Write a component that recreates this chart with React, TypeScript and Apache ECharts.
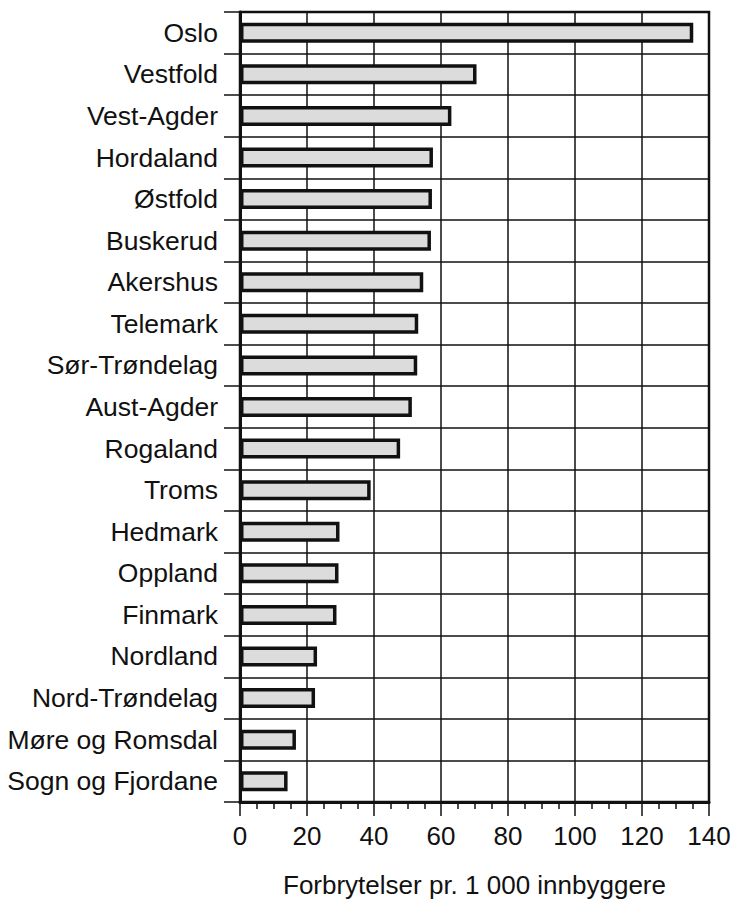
import React, { useEffect, useRef } from "react";
import * as echarts from "echarts";

const categories = [
  "Oslo",
  "Vestfold",
  "Vest-Agder",
  "Hordaland",
  "Østfold",
  "Buskerud",
  "Akershus",
  "Telemark",
  "Sør-Trøndelag",
  "Aust-Agder",
  "Rogaland",
  "Troms",
  "Hedmark",
  "Oppland",
  "Finmark",
  "Nordland",
  "Nord-Trøndelag",
  "Møre og Romsdal",
  "Sogn og Fjordane",
];

const values = [
  135.3, 70.6, 63.1, 57.6, 57.3, 57.0, 54.7, 53.2, 52.9, 51.3, 47.8, 39.0, 29.7,
  29.4, 28.8, 23.0, 22.4, 16.7, 14.2,
];

const xTicks = { min: 0, max: 140, interval: 20 };
const axisName = "Forbrytelser pr. 1 000 innbyggere";

const FONT = "'Liberation Sans', Arial, Helvetica, sans-serif";

export default function App() {
  const ref = useRef<HTMLDivElement>(null);

  useEffect(() => {
    if (!ref.current) return;
    const chart = echarts.init(ref.current, null, { renderer: "svg" });
    chart.setOption({
      animation: false,
      backgroundColor: "#ffffff",
      grid: {
        left: 240,
        right: 25,
        top: 12,
        bottom: 102,
        show: true,
        borderColor: "#111",
        borderWidth: 2.5,
        backgroundColor: "transparent",
      },
      xAxis: {
        type: "value",
        min: xTicks.min,
        max: xTicks.max,
        interval: xTicks.interval,
        name: axisName,
        nameLocation: "middle",
        nameGap: 70,
        nameTextStyle: { fontFamily: FONT, fontSize: 26, color: "#111" },
        axisLine: { show: true, lineStyle: { color: "#111", width: 3 } },
        axisTick: { show: true, length: 14, lineStyle: { color: "#111", width: 1.5 } },
        minorTick: { show: true, splitNumber: 4, length: 7, lineStyle: { color: "#111", width: 1.5 } },
        axisLabel: { fontFamily: FONT, fontSize: 26, color: "#111", margin: 21 },
        splitLine: { show: true, lineStyle: { color: "#111", width: 1.5 } },
      },
      yAxis: {
        type: "category",
        data: categories,
        inverse: true,
        axisLine: { show: true, lineStyle: { color: "#111", width: 3 } },
        axisTick: { show: true, length: 16, lineStyle: { color: "#111", width: 1.5 } },
        axisLabel: { fontFamily: FONT, fontSize: 26.5, color: "#111", margin: 22 },
        splitLine: { show: true, lineStyle: { color: "#111", width: 1.5 } },
      },
      series: [
        {
          type: "bar",
          data: values,
          barWidth: 20,
          itemStyle: {
            color: "#dcdcdc",
            borderColor: "#111",
            borderWidth: 3.5,
          },
          z: 3,
        },
      ],
    });
    return () => chart.dispose();
  }, []);

  return (
    <div
      ref={ref}
      style={{ position: "fixed", left: 0, top: 0, width: 734, height: 904 }}
    />
  );
}
